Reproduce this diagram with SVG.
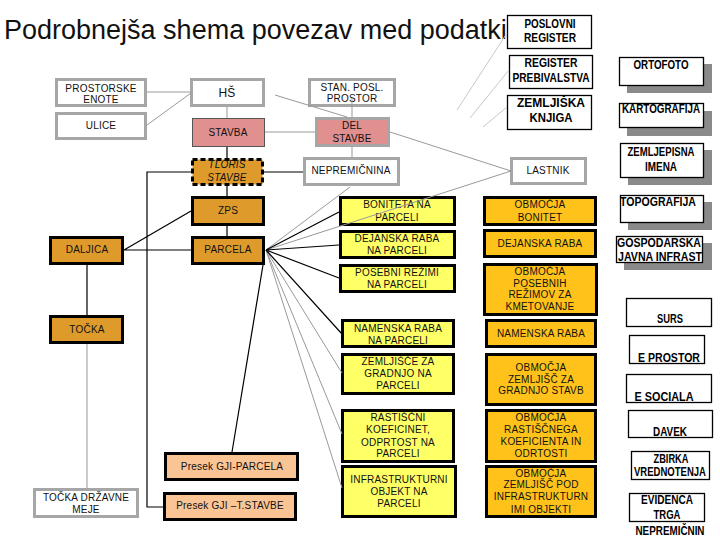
<svg xmlns="http://www.w3.org/2000/svg" width="720" height="540" viewBox="0 0 720 540">
<style>
.t{font-family:"Liberation Sans",Arial,sans-serif;font-size:10px;text-anchor:middle;fill:#111;letter-spacing:0.2px}
.r{font-family:"Liberation Sans",Arial,sans-serif;font-weight:bold;font-size:12px;text-anchor:middle;fill:#000}
.g{fill:#fff;stroke:#a6a6a6;stroke-width:3}
.k{stroke:#000;stroke-width:3}
.or{fill:#DE9B2C}
.ye{fill:#FFFF66}
.am{fill:#FFC21A}
.sa{fill:#FBC495}
.pk{fill:#E0908F}
.w{fill:#fff;stroke:#000;stroke-width:1.3}
.sh{fill:#8a8a8a}
.cg{fill:none;stroke:#999;stroke-width:1}
.cl{fill:none;stroke:#c8c8c8;stroke-width:1}
.cb{fill:none;stroke:#000;stroke-width:1.2}
</style>
<text x="4" y="39" font-family="Liberation Sans, Arial, sans-serif" font-size="27" fill="#111">Podrobnejša shema povezav med podatki</text>

<g id="prostorske-enote"><rect class="g" x="56.5" y="79.5" width="89" height="26"/><text class="t" x="101" y="92">PROSTORSKE</text><text class="t" x="101" y="103">ENOTE</text></g>
<g id="ulice"><rect class="g" x="56.5" y="113.5" width="89" height="25"/><text class="t" x="101" y="129">ULICE</text></g>
<g id="hs"><rect class="g" x="191.5" y="79.5" width="72" height="26"/><text class="t" x="227" y="97" style="font-size:12px">HŠ</text></g>
<g id="stavba"><rect class="pk" x="192.5" y="118.5" width="72" height="28" stroke="#555" stroke-width="1"/><text class="t" x="228" y="136">STAVBA</text></g>
<g id="stan-posl-prostor"><rect class="g" x="309.5" y="79.5" width="85" height="26"/><text class="t" x="352" y="91">STAN. POSL.</text><text class="t" x="352" y="102">PROSTOR</text></g>
<g id="del-stavbe"><rect class="pk" x="316.5" y="118.5" width="72" height="27" stroke="#a6a6a6" stroke-width="3"/><text class="t" x="352" y="129">DEL</text><text class="t" x="352" y="142">STAVBE</text></g>
<g id="tloris-stavbe"><rect class="or" x="192.5" y="159.5" width="70" height="25" stroke="#000" stroke-width="3" stroke-dasharray="5 3"/><text class="t" x="227" y="168" font-style="italic">TLORIS</text><text class="t" x="227" y="181" font-style="italic">STAVBE</text></g>
<g id="nepremicnina"><rect class="g" x="304.5" y="158.5" width="94" height="26"/><text class="t" x="351" y="174">NEPREMIČNINA</text></g>
<g id="lastnik"><rect class="g" x="511.5" y="158.5" width="74" height="25"/><text class="t" x="548" y="174">LASTNIK</text></g>
<g id="zps"><rect class="or k" x="192.5" y="197.5" width="71" height="27"/><text class="t" x="228" y="214">ZPS</text></g>
<g id="parcela"><rect class="or k" x="192.5" y="237.5" width="71" height="26"/><text class="t" x="228" y="253">PARCELA</text></g>
<g id="daljica"><rect class="or k" x="50.5" y="237.5" width="72" height="26"/><text class="t" x="87" y="253">DALJICA</text></g>
<g id="tocka"><rect class="or k" x="50.5" y="316.5" width="72" height="26"/><text class="t" x="87" y="333">TOČKA</text></g>
<g id="tocka-drzavne-meje"><rect class="g" x="34.5" y="489.5" width="103" height="27"/><text class="t" x="86" y="501">TOČKA DRŽAVNE</text><text class="t" x="86" y="513">MEJE</text></g>
<g id="presek-gji-parcela"><rect class="sa k" x="165.5" y="453.5" width="132" height="26"/><text class="t" x="232" y="470">Presek GJI-PARCELA</text></g>
<g id="presek-gji-tstavbe"><rect class="sa k" x="164.5" y="493.5" width="131" height="26"/><text class="t" x="230" y="509">Presek GJI –T.STAVBE</text></g>

<g id="boniteta-na-parceli"><rect class="ye k" x="340.5" y="197.5" width="114" height="27"/><text class="t" x="397" y="208">BONITETA NA</text><text class="t" x="397" y="221">PARCELI</text></g>
<g id="dejanska-raba-na-parceli"><rect class="ye k" x="340.5" y="231.5" width="114" height="26"/><text class="t" x="397" y="242">DEJANSKA RABA</text><text class="t" x="397" y="254">NA PARCELI</text></g>
<g id="posebni-rezimi"><rect class="ye k" x="340.5" y="265.5" width="114" height="26"/><text class="t" x="397" y="276">POSEBNI REŽIMI</text><text class="t" x="397" y="288">NA PARCELI</text></g>
<g id="namenska-raba-na-parceli"><rect class="ye k" x="342.5" y="320.5" width="111" height="26"/><text class="t" x="398" y="332">NAMENSKA RABA</text><text class="t" x="398" y="344">NA PARCELI</text></g>
<g id="zemljisce-za-gradnjo"><rect class="ye k" x="342.5" y="354.5" width="111" height="39"/><text class="t" x="398" y="365">ZEMLJIŠČE ZA</text><text class="t" x="398" y="377">GRADNJO NA</text><text class="t" x="398" y="389">PARCELI</text></g>
<g id="rastiscni-koeficinet"><rect class="ye k" x="342.5" y="410.5" width="111" height="51"/><text class="t" x="398" y="421">RASTIŠČNI</text><text class="t" x="398" y="433">KOEFICINET,</text><text class="t" x="398" y="446">ODPRTOST NA</text><text class="t" x="398" y="457">PARCELI</text></g>
<g id="infrastrukturni-objekt"><rect class="ye k" x="342.5" y="466.5" width="113" height="50"/><text class="t" x="399" y="483">INFRASTRUKTURNI</text><text class="t" x="399" y="495">OBJEKT NA</text><text class="t" x="399" y="507">PARCELI</text></g>

<g id="obmocja-bonitet"><rect class="am k" x="484.5" y="197.5" width="111" height="27"/><text class="t" x="540" y="208">OBMOČJA</text><text class="t" x="540" y="221">BONITET</text></g>
<g id="dejanska-raba"><rect class="am k" x="484.5" y="230.5" width="111" height="26"/><text class="t" x="540" y="247">DEJANSKA RABA</text></g>
<g id="obmocja-posebnih-rezimov"><rect class="am k" x="484.5" y="264.5" width="112" height="50"/><text class="t" x="540" y="275">OBMOČJA</text><text class="t" x="540" y="287">POSEBNIH</text><text class="t" x="540" y="298">REŽIMOV ZA</text><text class="t" x="540" y="310">KMETOVANJE</text></g>
<g id="namenska-raba"><rect class="am k" x="486.5" y="320.5" width="109" height="26"/><text class="t" x="541" y="337">NAMENSKA RABA</text></g>
<g id="obmocja-zemljisc-gradnjo"><rect class="am k" x="486.5" y="354.5" width="109" height="50"/><text class="t" x="541" y="371">OBMOČJA</text><text class="t" x="541" y="383">ZEMLJIŠČ ZA</text><text class="t" x="541" y="394">GRADNJO STAVB</text></g>
<g id="obmocja-rastiscnega"><rect class="am k" x="486.5" y="410.5" width="109" height="51"/><text class="t" x="541" y="421">OBMOČJA</text><text class="t" x="541" y="433">RASTIŠČNEGA</text><text class="t" x="541" y="445">KOEFICIENTA IN</text><text class="t" x="541" y="457">ODRTOSTI</text></g>
<g id="obmocja-infrastruktura"><rect class="am k" x="486.5" y="466.5" width="109" height="50"/><text class="t" x="541" y="477">OBMOČJA</text><text class="t" x="541" y="488">ZEMLJIŠČ POD</text><text class="t" x="541" y="500">INFRASTRUKTURN</text><text class="t" x="541" y="513">IMI OBJEKTI</text></g>

<g id="poslovni-register"><rect class="w" x="507.5" y="15.5" width="84" height="33"/><text class="r" x="550" y="28" textLength="51" lengthAdjust="spacingAndGlyphs">POSLOVNI</text><text class="r" x="550" y="42" textLength="52" lengthAdjust="spacingAndGlyphs">REGISTER</text></g>
<g id="register-prebivalstva"><rect class="w" x="509.5" y="55.5" width="83" height="33"/><text class="r" x="551" y="67" textLength="53" lengthAdjust="spacingAndGlyphs">REGISTER</text><text class="r" x="551" y="82" textLength="77" lengthAdjust="spacingAndGlyphs">PREBIVALSTVA</text></g>
<g id="zemljiska-knjiga"><rect class="w" x="507.5" y="95.5" width="84" height="34"/><text class="r" x="551" y="107" textLength="68" lengthAdjust="spacingAndGlyphs">ZEMLJIŠKA</text><text class="r" x="551" y="122" textLength="43" lengthAdjust="spacingAndGlyphs">KNJIGA</text></g>
<g id="ortofoto"><rect class="sh" x="627" y="64" width="85" height="29"/><rect class="w" x="619.5" y="57.5" width="84" height="28"/><text class="r" x="661" y="69" textLength="55" lengthAdjust="spacingAndGlyphs">ORTOFOTO</text></g>
<g id="kartografija"><rect class="sh" x="627" y="111" width="85" height="25"/><rect class="w" x="619.5" y="103.5" width="84" height="24"/><text class="r" x="661" y="113" textLength="78" lengthAdjust="spacingAndGlyphs">KARTOGRAFIJA</text></g>
<g id="zemljepisna-imena"><rect class="sh" x="628" y="150" width="84" height="35"/><rect class="w" x="620.5" y="143.5" width="83" height="34"/><text class="r" x="661" y="156" textLength="67" lengthAdjust="spacingAndGlyphs">ZEMLJEPISNA</text><text class="r" x="661" y="171" textLength="32" lengthAdjust="spacingAndGlyphs">IMENA</text></g>
<g id="topografija"><rect class="sh" x="628" y="202" width="84" height="28"/><rect class="w" x="620.5" y="195.5" width="83" height="27"/><text class="r" x="658" y="206" textLength="76" lengthAdjust="spacingAndGlyphs">TOPOGRAFIJA</text></g>
<g id="gospodarska-javna-infrast"><rect class="sh" x="624" y="243" width="88" height="27"/><rect class="w" x="616.5" y="236.5" width="86" height="26"/><text class="r" x="659" y="247" textLength="84" lengthAdjust="spacingAndGlyphs">GOSPODARSKA</text><text class="r" x="660" y="261" textLength="84" lengthAdjust="spacingAndGlyphs">JAVNA INFRAST</text></g>

<g id="surs"><rect class="w" x="626.5" y="298.5" width="85" height="28"/><text class="r" x="670" y="323" textLength="26" lengthAdjust="spacingAndGlyphs">SURS</text></g>
<g id="e-prostor"><rect class="w" x="629.5" y="335.5" width="75" height="28"/><text class="r" x="669" y="362" textLength="62" lengthAdjust="spacingAndGlyphs">E PROSTOR</text></g>
<g id="e-sociala"><rect class="w" x="626.5" y="374.5" width="85" height="28"/><text class="r" x="664" y="401" textLength="59" lengthAdjust="spacingAndGlyphs">E SOCIALA</text></g>
<g id="davek"><rect class="w" x="628.5" y="410.5" width="84" height="27"/><text class="r" x="670" y="436" textLength="34" lengthAdjust="spacingAndGlyphs">DAVEK</text></g>
<g id="zbirka-vrednotenja"><rect class="w" x="631.5" y="451.5" width="78" height="28"/><text class="r" x="671" y="463" textLength="35" lengthAdjust="spacingAndGlyphs">ZBIRKA</text><text class="r" x="670" y="476" textLength="72" lengthAdjust="spacingAndGlyphs">VREDNOTENJA</text></g>
<g id="evidenca-trga"><rect class="w" x="629.5" y="493.5" width="75" height="28"/><text class="r" x="667" y="504" textLength="52" lengthAdjust="spacingAndGlyphs">EVIDENCA</text><text class="r" x="667" y="519" textLength="27" lengthAdjust="spacingAndGlyphs">TRGA</text><text class="r" x="670" y="535" textLength="69" lengthAdjust="spacingAndGlyphs">NEPREMIČNIN</text></g>

<g id="connectors">
<path class="cg" d="M147 92H191M147 125L191 93M227 107V118M275 95L347 117M352 98V117M265 132H315M352 147V157M390 132L511 171M266 250L350 187M266 250L511 171M266 250L342 373M266 250L342 434M266 250L342 488M87 344V488"/>
<path class="cl" d="M457 110L507 33M470 118L509 70M483 127L507 107"/>
<path class="cb" d="M227 147V158M264 172H303M191 172H147V507H163M227 186V196M227 226V236M124 250H191M124 250L191 211M87 265V315M263 265L232 452M266 250L339 212M266 250L339 245M266 250L339 278M266 250L342 334"/>
</g>
</svg>
